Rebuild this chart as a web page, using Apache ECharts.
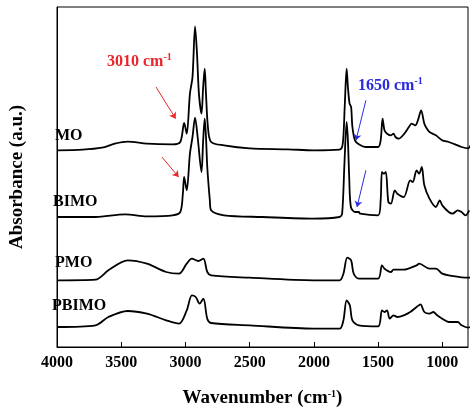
<!DOCTYPE html>
<html>
<head>
<meta charset="utf-8">
<script src="https://cdn.jsdelivr.net/npm/echarts@6/dist/echarts.min.js"></script>
<style>html,body{margin:0;background:#fff}#c{width:474px;height:418px}</style>
</head>
<body>
<div id="c"></div>
<script>
// FTIR spectra, [wavenumber, absorbance (offset, a.u.)]
const MO = [[4000,59],[3800,59.2],[3650,59.8],[3550,61],[3450,61.6],[3300,61],[3100,60.8],[3040,61.5],[3010,67.2],[2990,64],[2965,76],[2945,81],[2925,96.2],[2910,88],[2895,76],[2875,70],[2862,78],[2850,83.5],[2840,76],[2825,66],[2800,61.5],[2700,60.5],[2500,59.6],[2200,59.3],[2000,59],[1800,59.2],[1775,61],[1760,72],[1745,83.5],[1735,78],[1722,73],[1710,72],[1700,66],[1680,62],[1650,60.8],[1600,60],[1500,60],[1480,62],[1465,68.5],[1450,65],[1430,64],[1400,63.5],[1380,64],[1365,63],[1340,62.5],[1300,63.8],[1260,66],[1240,67],[1210,66.5],[1190,68],[1165,71],[1140,67],[1120,65.5],[1100,64.5],[1050,63.5],[1000,62],[950,61.5],[900,60.8],[850,60],[800,59.6],[780,60.5]];
const BIMO = [[4000,39],[3700,39],[3470,39.8],[3300,39.2],[3100,39.5],[3040,40.5],[3020,46],[3010,51],[2990,47],[2965,58],[2945,63],[2925,68.8],[2905,63],[2875,52.5],[2862,62],[2850,68.5],[2840,63],[2830,54],[2810,44],[2800,41],[2700,39.5],[2400,39],[2000,38.5],[1800,39],[1780,40],[1762,55],[1745,67.5],[1735,62],[1725,51],[1712,42],[1680,40.5],[1650,40.5],[1640,40],[1500,39.5],[1480,44],[1470,52.5],[1455,52],[1440,52.5],[1420,43.5],[1400,43],[1370,47],[1350,46],[1300,45],[1250,50],[1230,49.5],[1200,53],[1180,52],[1160,54],[1140,48.5],[1100,44.5],[1050,42],[1020,44],[1000,42.5],[950,40.5],[920,40],[880,41],[850,40.5],[820,39.5],[790,41]];
const PMO = [[4000,20],[3700,20.2],[3600,23],[3450,26],[3300,25],[3150,22.5],[3050,22],[2990,25],[2950,26.5],[2900,25.8],[2860,26.5],[2830,22.5],[2800,21.5],[2500,20.8],[2000,20],[1800,20],[1770,22],[1740,26.8],[1710,26],[1690,22],[1650,20.5],[1500,20.5],[1470,24.5],[1450,23.5],[1400,22.5],[1380,23.2],[1300,23.2],[1200,24.5],[1180,25],[1100,23.5],[1050,23.5],[1000,22],[950,21.5],[800,20.8],[760,20.8]];
const PBIMO = [[4000,6],[3700,6.5],[3600,9],[3450,10.8],[3300,10],[3150,8],[3050,7],[2990,11],[2950,15.5],[2920,15],[2890,13],[2860,14.5],[2830,8.5],[2800,7.2],[2500,6.5],[2000,5.5],[1800,5.5],[1770,8],[1745,14],[1720,12.5],[1700,8],[1650,6.5],[1500,6.2],[1470,11],[1450,10.5],[1430,11],[1410,8.5],[1380,9.5],[1350,9],[1300,9.5],[1250,10.5],[1200,12],[1170,12.8],[1140,10.5],[1100,10],[1070,10.5],[1040,9.5],[1000,8.5],[950,7.5],[880,7.5],[850,6.5],[800,5.8],[760,6.5]];
const xTicks = [1000, 1500, 2000, 2500, 3000, 3500, 4000];

const serif = 'Liberation Serif';
const sup = { fontSize: 10, fontWeight: 'bold', verticalAlign: 'top', padding: [0, 0, 9, 0], fontFamily: serif };

function arrowLine(color, pairs) {
    return {
        silent: true, symbol: ['none', 'arrow'], symbolSize: 6, label: { show: false },
        lineStyle: { color: color, width: 1, type: 'solid' },
        data: pairs.map(p => [{ coord: p[0] }, { coord: p[1] }])
    };
}
function line(name, data, ml) {
    return { name: name, type: 'line', data: data, showSymbol: false, smooth: 0.3,
        lineStyle: { color: '#000', width: 1.8 }, markLine: ml, animation: false };
}

const chart = echarts.init(document.getElementById('c'));
chart.setOption({
    grid: { left: 48, right: 6, top: 7, bottom: 71, show: true, borderColor: '#000', borderWidth: 1 },
    xAxis: {
        type: 'value', min: 800, max: 4000, inverse: true,
        name: '{t|Wavenumber (cm}{s|-1}{t|)}', nameLocation: 'middle', nameGap: 42,
        nameTextStyle: { rich: { t: { fontSize: 19, fontWeight: 'bold', fontFamily: serif }, s: sup } },
        axisLine: { lineStyle: { color: '#000' } },
        axisTick: { inside: true, length: 5, customValues: xTicks, lineStyle: { color: '#000' } },
        axisLabel: { customValues: xTicks, formatter: v => String(v), color: '#000', fontSize: 16, fontWeight: 'bold', fontFamily: serif, margin: 8 },
        splitLine: { show: false }
    },
    yAxis: {
        type: 'value', min: 0, max: 102,
        name: 'Absorbance (a.u.)', nameLocation: 'middle', nameGap: 30,
        nameTextStyle: { fontSize: 19, fontWeight: 'bold', fontFamily: serif, color: '#000' },
        axisLine: { show: true, lineStyle: { color: '#000' } },
        axisTick: { show: false }, axisLabel: { show: false }, splitLine: { show: false }
    },
    series: [
        line('MO', MO, arrowLine('#e8262b', [[[3229, 78], [3076, 68.5]], [[3183, 57], [3053, 51]]])),
        line('BIMO', BIMO, arrowLine('#2a2ae0', [[[1595, 74], [1672, 62]], [[1595, 53], [1664, 42]]])),
        line('PMO', PMO),
        line('PBIMO', PBIMO)
    ],
    graphic: [
        { type: 'text', left: 55, top: 128, style: { text: 'MO', font: 'bold 16px ' + serif, fill: '#000' } },
        { type: 'text', left: 53, top: 194, style: { text: 'BIMO', font: 'bold 16px ' + serif, fill: '#000' } },
        { type: 'text', left: 55, top: 255, style: { text: 'PMO', font: 'bold 16px ' + serif, fill: '#000' } },
        { type: 'text', left: 52, top: 298, style: { text: 'PBIMO', font: 'bold 16px ' + serif, fill: '#000' } },
        { type: 'text', left: 107, top: 52, style: { text: '{t|3010 cm}{s|-1}',
            rich: { t: { fontSize: 16, fontWeight: 'bold', fontFamily: serif, fill: '#e8262b' }, s: Object.assign({}, sup, { fill: '#e8262b' }) } } },
        { type: 'text', left: 358, top: 76, style: { text: '{t|1650 cm}{s|-1}',
            rich: { t: { fontSize: 16, fontWeight: 'bold', fontFamily: serif, fill: '#2a2ae0' }, s: Object.assign({}, sup, { fill: '#2a2ae0' }) } } }
    ]
});
</script>
</body>
</html>
